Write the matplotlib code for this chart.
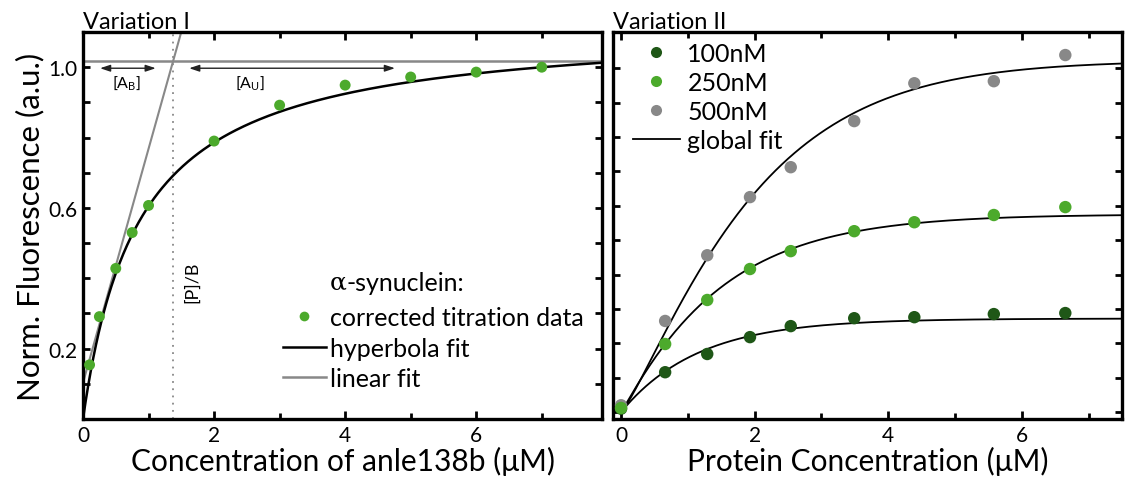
import numpy as np
import matplotlib
matplotlib.use('Agg')
import matplotlib.pyplot as plt
from matplotlib.lines import Line2D

plt.rcParams['font.family'] = ['Lato', 'DejaVu Sans']
plt.rcParams['mathtext.fontset'] = 'custom'
plt.rcParams['mathtext.rm'] = 'Lato'
plt.rcParams['mathtext.it'] = 'Lato:italic'

# Variation I: anle138b titration of alpha-synuclein
conc_anle = [0.1, 0.25, 0.5, 0.75, 1.0, 2.0, 3.0, 4.0, 5.0, 6.0, 7.0]
fluo_anle = [0.154, 0.291, 0.428, 0.530, 0.607, 0.790, 0.892, 0.949, 0.972, 0.986, 1.000]
hyp_bmax, hyp_kd = 1.122, 0.855          # hyperbola fit
lin_icpt, lin_slope = 0.103, 0.665       # linear fit of the first points
plateau = 1.018
p_over_b = 1.374

# Variation II: protein titration at three probe concentrations
conc_prot = [0.0, 0.66, 1.29, 1.93, 2.54, 3.49, 4.39, 5.58, 6.65]
fluo_100 = [0.010, 0.116, 0.169, 0.218, 0.250, 0.273, 0.276, 0.285, 0.288]
fluo_250 = [0.012, 0.198, 0.326, 0.416, 0.468, 0.526, 0.552, 0.573, 0.596]
fluo_500 = [0.020, 0.265, 0.456, 0.625, 0.712, 0.846, 0.956, 0.962, 1.038]
# global fit parameters (amplitude, time constant, exponent) per series
fit_100 = (0.272, 1.15, 1.0)
fit_250 = (0.575, 1.50, 1.05)
fit_500 = (1.022, 2.04, 1.2)

green = '#4caa2c'
dark_green = '#1f5717'
grey = '#888888'


def sat_curve(x, amp, tau, n):
    return amp * (1 - np.exp(-(x / tau) ** n))


def style_axes(ax):
    for s in ax.spines.values():
        s.set_linewidth(2.4)
    ax.tick_params(which='both', direction='in', top=True, right=True, width=2.0)
    ax.tick_params(which='major', length=6, labelsize=15, pad=4)
    ax.tick_params(which='minor', length=4)


fig = plt.figure(figsize=(11.34, 4.81), dpi=100)
ax1 = fig.add_axes([0.0732, 0.1268, 0.4577, 0.8046])
ax2 = fig.add_axes([0.5406, 0.1268, 0.4489, 0.8046])

# ---- left panel ----
xs = np.linspace(0, 7.9, 400)
ax1.axhline(plateau, color=grey, lw=1.8, zorder=1)
xl = np.linspace(0, 1.6, 50)
ax1.plot(xl, lin_icpt + lin_slope * xl, color=grey, lw=1.5, zorder=2)
ax1.plot(xs, hyp_bmax * xs / (hyp_kd + xs), color='black', lw=1.8, zorder=3)
ax1.scatter(conc_anle, fluo_anle, s=62, color=green, edgecolors='none', zorder=4)
ax1.axvline(p_over_b, color=grey, lw=1.3, ls=(0, (1, 3)), zorder=1)

arrow_kw = dict(arrowstyle='<|-|>,head_length=0.6,head_width=0.2', color='#222222', lw=1.0,
                shrinkA=0, shrinkB=0)
ax1.annotate('', xy=(0.26, 0.997), xytext=(1.11, 0.997), arrowprops=arrow_kw)
ax1.annotate('', xy=(1.62, 0.997), xytext=(4.76, 0.997), arrowprops=arrow_kw)
ax1.text(0.67, 0.957, r'[A$_\mathrm{B}$]', ha='center', va='center', fontsize=11.5)
ax1.text(2.55, 0.957, r'[A$_\mathrm{U}$]', ha='center', va='center', fontsize=11.5)
ax1.text(1.66, 0.39, '[P]/B', rotation=90, ha='center', va='center', fontsize=13)

ax1.set_xlim(0, 7.92)
ax1.set_ylim(0, 1.1)
ax1.set_xticks([0, 2, 4, 6])
ax1.set_xticks([1, 3, 5, 7], minor=True)
yt = np.round(np.arange(0.1, 1.05, 0.1), 1)
ax1.set_yticks(yt)
ax1.set_yticklabels(['%.1f' % v if v in (0.2, 0.6, 1.0) else '' for v in yt])
style_axes(ax1)
ax1.tick_params(which='major', axis='y', length=5)
ax1.set_xlabel('Concentration of anle138b (μM)', fontsize=21.5, labelpad=1)
ax1.set_ylabel('Norm. Fluorescence (a.u.)', fontsize=22.5, labelpad=3)
ax1.set_title('Variation I', loc='left', fontsize=17, pad=2)

t1 = ax1.text(0.476, 0.354, 'α', transform=ax1.transAxes, family='DejaVu Serif',
              fontsize=18, ha='left', va='center')
ax1.annotate('-synuclein:', xy=(1, 0.5), xycoords=t1, ha='left', va='center', fontsize=18)
handles1 = [
    Line2D([], [], ls='none', marker='o', ms=7, color=green, mec='none'),
    Line2D([], [], color='black', lw=1.8),
    Line2D([], [], color=grey, lw=1.8),
]
ax1.legend(handles1, ['corrected titration data', 'hyperbola fit', 'linear fit'],
           loc='upper left', bbox_to_anchor=(0.385, 0.292), frameon=False, fontsize=18,
           handlelength=1.72, handletextpad=0.16, labelspacing=0.3, borderpad=0,
           borderaxespad=0)

# ---- right panel ----
xr = np.linspace(0, 7.5, 400)
for p in (fit_100, fit_250, fit_500):
    ax2.plot(xr, sat_curve(xr, *p), color='black', lw=1.3, zorder=2)
ax2.scatter(conc_prot, fluo_100, s=80, color=dark_green, edgecolors='none', zorder=3)
ax2.scatter(conc_prot, fluo_500, s=80, color=grey, edgecolors='none', zorder=4)
ax2.scatter(conc_prot, fluo_250, s=80, color=green, edgecolors='none', zorder=5)

ax2.set_xlim(-0.12, 7.5)
ax2.set_ylim(-0.02, 1.105)
ax2.set_xticks([0, 2, 4, 6])
ax2.set_xticks([1, 3, 5, 7], minor=True)
ax2.set_yticks(np.arange(0, 1.05, 0.1))
ax2.set_yticklabels([])
style_axes(ax2)
ax2.tick_params(which='major', axis='y', length=5)
ax2.set_xlabel('Protein Concentration (μM)', fontsize=21.5, labelpad=1)
ax2.set_title('Variation II', loc='left', fontsize=17, pad=2)

handles2 = [
    Line2D([], [], ls='none', marker='o', ms=8, color=dark_green, mec='none'),
    Line2D([], [], ls='none', marker='o', ms=8, color=green, mec='none'),
    Line2D([], [], ls='none', marker='o', ms=8, color=grey, mec='none'),
    Line2D([], [], color='black', lw=1.3),
]
ax2.legend(handles2, ['100nM', '250nM', '500nM', 'global fit'],
           loc='upper left', bbox_to_anchor=(0.039, 0.974), frameon=False, fontsize=18,
           handlelength=1.88, handletextpad=0.3, labelspacing=0.24, borderpad=0,
           borderaxespad=0)

fig.savefig('out.png', dpi=100)
